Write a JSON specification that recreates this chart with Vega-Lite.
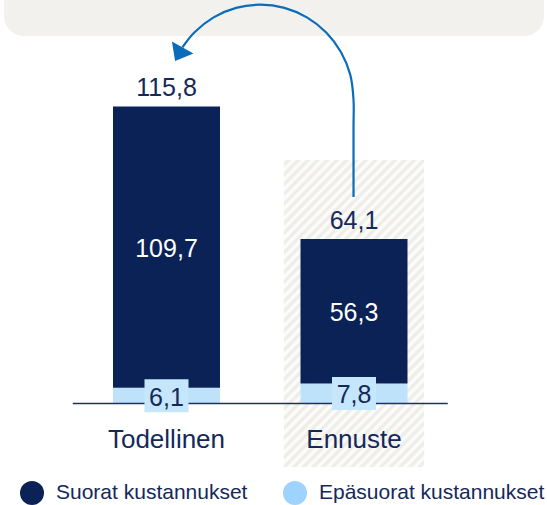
{
  "$schema": "https://vega.github.io/schema/vega-lite/v6.json",
  "width": 547,
  "height": 505,
  "autosize": {"type": "none"},
  "padding": 0,
  "background": "white",
  "config": {
    "view": {"stroke": null},
    "axis": {"disable": true},
    "text": {"font": "Liberation Sans"},
    "legend": {
      "orient": "none",
      "legendX": 20,
      "legendY": 481,
      "direction": "horizontal",
      "symbolType": "circle",
      "symbolSize": 576,
      "symbolStrokeWidth": 0,
      "symbolOpacity": 1,
      "labelFont": "Liberation Sans",
      "labelFontSize": 21,
      "labelColor": "#14295a",
      "labelLimit": 400,
      "labelOffset": 12,
      "columnPadding": 35,
      "padding": 0,
      "title": null
    }
  },
  "datasets": {
    "costs": [
      {"cat": "Todellinen", "pos": 1, "type": "Epäsuorat kustannukset", "ord": 1, "value": 6.1},
      {"cat": "Todellinen", "pos": 1, "type": "Suorat kustannukset", "ord": 2, "value": 109.7},
      {"cat": "Ennuste", "pos": 2, "type": "Epäsuorat kustannukset", "ord": 1, "value": 7.8},
      {"cat": "Ennuste", "pos": 2, "type": "Suorat kustannukset", "ord": 2, "value": 56.3}
    ],
    "arrow": [
      {"i": 0, "u": 1.9974, "v": 80.51},
      {"i": 1, "u": 1.9974, "v": 108.0},
      {"i": 2, "u": 1.9974, "v": 118.44},
      {"i": 3, "u": 1.9806, "v": 128.03},
      {"i": 4, "u": 1.9309, "v": 136.96},
      {"i": 5, "u": 1.8518, "v": 144.64},
      {"i": 6, "u": 1.7487, "v": 150.53},
      {"i": 7, "u": 1.6288, "v": 154.23},
      {"i": 8, "u": 1.5, "v": 155.48},
      {"i": 9, "u": 1.3712, "v": 154.23},
      {"i": 10, "u": 1.2513, "v": 150.53},
      {"i": 11, "u": 1.1482, "v": 144.64},
      {"i": 12, "u": 1.0848, "v": 138.83}
    ]
  },
  "data": {"name": "costs"},
  "transform": [
    {"stack": "value", "groupby": ["pos"], "sort": [{"field": "ord", "order": "ascending"}], "as": ["y0", "y1"]},
    {"calculate": "(datum.y0 + datum.y1) / 2", "as": "mid"},
    {"calculate": "replace(format(datum.value, '.1f'), '.', ',')", "as": "lbl"}
  ],
  "layer": [
    {
      "data": {"values": [{}]},
      "mark": {"type": "rect", "color": "#f2f1ee", "cornerRadius": 20},
      "encoding": {
        "x": {"datum": 0.1335, "type": "quantitative", "scale": {"domain": [0.1387, 3.0026], "nice": false, "zero": false}, "axis": null},
        "x2": {"datum": 3.013},
        "y": {"datum": 143.3, "type": "quantitative", "scale": {"domain": [-39.57, 157.31], "nice": false, "zero": false}, "axis": null},
        "y2": {"datum": 175}
      }
    },
    {
      "data": {"values": [{}]},
      "mark": {
        "type": "rect",
        "fill": {
          "gradient": "linear",
          "x1": 0, "y1": 0, "x2": 0.5558, "y2": 1.205,
          "stops": [
            {"offset": 0, "color": "#ffffff"}, {"offset": 0.0109, "color": "#ebeae4"},
            {"offset": 0.0217, "color": "#ffffff"}, {"offset": 0.0326, "color": "#ebeae4"},
            {"offset": 0.0435, "color": "#ffffff"}, {"offset": 0.0543, "color": "#ebeae4"},
            {"offset": 0.0652, "color": "#ffffff"}, {"offset": 0.0761, "color": "#ebeae4"},
            {"offset": 0.0870, "color": "#ffffff"}, {"offset": 0.0978, "color": "#ebeae4"},
            {"offset": 0.1087, "color": "#ffffff"}, {"offset": 0.1196, "color": "#ebeae4"},
            {"offset": 0.1304, "color": "#ffffff"}, {"offset": 0.1413, "color": "#ebeae4"},
            {"offset": 0.1522, "color": "#ffffff"}, {"offset": 0.1630, "color": "#ebeae4"},
            {"offset": 0.1739, "color": "#ffffff"}, {"offset": 0.1848, "color": "#ebeae4"},
            {"offset": 0.1957, "color": "#ffffff"}, {"offset": 0.2065, "color": "#ebeae4"},
            {"offset": 0.2174, "color": "#ffffff"}, {"offset": 0.2283, "color": "#ebeae4"},
            {"offset": 0.2391, "color": "#ffffff"}, {"offset": 0.2500, "color": "#ebeae4"},
            {"offset": 0.2609, "color": "#ffffff"}, {"offset": 0.2717, "color": "#ebeae4"},
            {"offset": 0.2826, "color": "#ffffff"}, {"offset": 0.2935, "color": "#ebeae4"},
            {"offset": 0.3043, "color": "#ffffff"}, {"offset": 0.3152, "color": "#ebeae4"},
            {"offset": 0.3261, "color": "#ffffff"}, {"offset": 0.3370, "color": "#ebeae4"},
            {"offset": 0.3478, "color": "#ffffff"}, {"offset": 0.3587, "color": "#ebeae4"},
            {"offset": 0.3696, "color": "#ffffff"}, {"offset": 0.3804, "color": "#ebeae4"},
            {"offset": 0.3913, "color": "#ffffff"}, {"offset": 0.4022, "color": "#ebeae4"},
            {"offset": 0.4130, "color": "#ffffff"}, {"offset": 0.4239, "color": "#ebeae4"},
            {"offset": 0.4348, "color": "#ffffff"}, {"offset": 0.4457, "color": "#ebeae4"},
            {"offset": 0.4565, "color": "#ffffff"}, {"offset": 0.4674, "color": "#ebeae4"},
            {"offset": 0.4783, "color": "#ffffff"}, {"offset": 0.4891, "color": "#ebeae4"},
            {"offset": 0.5000, "color": "#ffffff"}, {"offset": 0.5109, "color": "#ebeae4"},
            {"offset": 0.5217, "color": "#ffffff"}, {"offset": 0.5326, "color": "#ebeae4"},
            {"offset": 0.5435, "color": "#ffffff"}, {"offset": 0.5543, "color": "#ebeae4"},
            {"offset": 0.5652, "color": "#ffffff"}, {"offset": 0.5761, "color": "#ebeae4"},
            {"offset": 0.5870, "color": "#ffffff"}, {"offset": 0.5978, "color": "#ebeae4"},
            {"offset": 0.6087, "color": "#ffffff"}, {"offset": 0.6196, "color": "#ebeae4"},
            {"offset": 0.6304, "color": "#ffffff"}, {"offset": 0.6413, "color": "#ebeae4"},
            {"offset": 0.6522, "color": "#ffffff"}, {"offset": 0.6630, "color": "#ebeae4"},
            {"offset": 0.6739, "color": "#ffffff"}, {"offset": 0.6848, "color": "#ebeae4"},
            {"offset": 0.6957, "color": "#ffffff"}, {"offset": 0.7065, "color": "#ebeae4"},
            {"offset": 0.7174, "color": "#ffffff"}, {"offset": 0.7283, "color": "#ebeae4"},
            {"offset": 0.7391, "color": "#ffffff"}, {"offset": 0.7500, "color": "#ebeae4"},
            {"offset": 0.7609, "color": "#ffffff"}, {"offset": 0.7717, "color": "#ebeae4"},
            {"offset": 0.7826, "color": "#ffffff"}, {"offset": 0.7935, "color": "#ebeae4"},
            {"offset": 0.8043, "color": "#ffffff"}, {"offset": 0.8152, "color": "#ebeae4"},
            {"offset": 0.8261, "color": "#ffffff"}, {"offset": 0.8370, "color": "#ebeae4"},
            {"offset": 0.8478, "color": "#ffffff"}, {"offset": 0.8587, "color": "#ebeae4"},
            {"offset": 0.8696, "color": "#ffffff"}, {"offset": 0.8804, "color": "#ebeae4"},
            {"offset": 0.8913, "color": "#ffffff"}, {"offset": 0.9022, "color": "#ebeae4"},
            {"offset": 0.9130, "color": "#ffffff"}, {"offset": 0.9239, "color": "#ebeae4"},
            {"offset": 0.9348, "color": "#ffffff"}, {"offset": 0.9457, "color": "#ebeae4"},
            {"offset": 0.9565, "color": "#ffffff"}, {"offset": 0.9674, "color": "#ebeae4"},
            {"offset": 0.9783, "color": "#ffffff"}, {"offset": 0.9891, "color": "#ebeae4"},
            {"offset": 1, "color": "#ffffff"}
          ]
        }
      },
      "encoding": {
        "x": {"datum": 1.626, "type": "quantitative", "scale": {"domain": [0.1387, 3.0026], "nice": false, "zero": false}, "axis": null},
        "x2": {"datum": 2.374},
        "y": {"datum": -24.8, "type": "quantitative", "scale": {"domain": [-39.57, 157.31], "nice": false, "zero": false}, "axis": null},
        "y2": {"datum": 94.9}
      }
    },
    {
      "mark": {"type": "point", "filled": true, "shape": "circle", "opacity": 1},
      "encoding": {
        "x": {"field": "pos", "type": "quantitative", "scale": {"domain": [0.1387, 3.0026], "nice": false, "zero": false}, "axis": null},
        "y": {"field": "mid", "type": "quantitative", "scale": {"domain": [-39.57, 157.31], "nice": false, "zero": false}, "axis": null},
        "color": {
          "field": "type",
          "type": "nominal",
          "scale": {"domain": ["Suorat kustannukset", "Epäsuorat kustannukset"], "range": ["#0a2255", "#9ed3fd"]}
        }
      }
    },
    {
      "mark": {"type": "bar", "width": 107},
      "encoding": {
        "x": {"field": "pos", "type": "quantitative", "scale": {"domain": [0.1387, 3.0026], "nice": false, "zero": false}, "axis": null},
        "y": {"field": "y0", "type": "quantitative", "scale": {"domain": [-39.57, 157.31], "nice": false, "zero": false}, "axis": null},
        "y2": {"field": "y1"},
        "fill": {
          "field": "type",
          "type": "nominal",
          "scale": {"domain": ["Epäsuorat kustannukset", "Suorat kustannukset"], "range": ["#bde2fa", "#0a2255"]},
          "legend": null
        }
      }
    },
    {
      "data": {"values": [{}]},
      "mark": {"type": "rule", "color": "#1c3262", "strokeWidth": 1.5},
      "encoding": {
        "x": {"datum": 0.5, "type": "quantitative", "scale": {"domain": [0.1387, 3.0026], "nice": false, "zero": false}, "axis": null},
        "x2": {"datum": 2.5},
        "y": {"datum": 0, "type": "quantitative", "scale": {"domain": [-39.57, 157.31], "nice": false, "zero": false}, "axis": null}
      }
    },
    {
      "transform": [{"filter": "datum.ord === 1"}],
      "mark": {"type": "point", "shape": "M-1,-0.75L1,-0.75L1,0.75L-1,0.75Z", "size": 1936, "filled": true, "color": "#c5e6fb", "opacity": 1},
      "encoding": {
        "x": {"field": "pos", "type": "quantitative", "scale": {"domain": [0.1387, 3.0026], "nice": false, "zero": false}, "axis": null},
        "y": {"field": "mid", "type": "quantitative", "scale": {"domain": [-39.57, 157.31], "nice": false, "zero": false}, "axis": null}
      }
    },
    {
      "mark": {"type": "text", "fontSize": 25, "baseline": "alphabetic", "dy": 10},
      "encoding": {
        "x": {"field": "pos", "type": "quantitative", "scale": {"domain": [0.1387, 3.0026], "nice": false, "zero": false}, "axis": null},
        "y": {"field": "mid", "type": "quantitative", "scale": {"domain": [-39.57, 157.31], "nice": false, "zero": false}, "axis": null},
        "text": {"field": "lbl"},
        "color": {"condition": {"test": "datum.ord === 2", "value": "#ffffff"}, "value": "#14295a"}
      }
    },
    {
      "transform": [
        {"aggregate": [{"op": "sum", "field": "value", "as": "total"}], "groupby": ["pos", "cat"]},
        {"calculate": "replace(format(datum.total, '.1f'), '.', ',')", "as": "tl"}
      ],
      "layer": [
        {
          "mark": {"type": "text", "fontSize": 25, "baseline": "alphabetic", "dy": -10, "color": "#14295a"},
          "encoding": {
            "x": {"field": "pos", "type": "quantitative", "scale": {"domain": [0.1387, 3.0026], "nice": false, "zero": false}, "axis": null},
            "y": {"field": "total", "type": "quantitative", "scale": {"domain": [-39.57, 157.31], "nice": false, "zero": false}, "axis": null},
            "text": {"field": "tl"}
          }
        },
        {
          "mark": {"type": "text", "fontSize": 26, "baseline": "alphabetic", "dy": 44.5, "color": "#14295a"},
          "encoding": {
            "x": {"field": "pos", "type": "quantitative", "scale": {"domain": [0.1387, 3.0026], "nice": false, "zero": false}, "axis": null},
            "y": {"datum": 0, "type": "quantitative", "scale": {"domain": [-39.57, 157.31], "nice": false, "zero": false}, "axis": null},
            "text": {"field": "cat"}
          }
        }
      ]
    },
    {
      "data": {"name": "arrow"},
      "mark": {"type": "line", "interpolate": "catmull-rom", "color": "#0b6cb9", "strokeWidth": 2.2},
      "encoding": {
        "x": {"field": "u", "type": "quantitative", "scale": {"domain": [0.1387, 3.0026], "nice": false, "zero": false}, "axis": null},
        "y": {"field": "v", "type": "quantitative", "scale": {"domain": [-39.57, 157.31], "nice": false, "zero": false}, "axis": null},
        "order": {"field": "i", "type": "quantitative"}
      }
    },
    {
      "data": {"values": [{}]},
      "mark": {"type": "point", "shape": "M-1,-0.63L1,-0.63L0,0.63Z", "size": 605, "angle": 29.2, "filled": true, "color": "#0b6cb9", "opacity": 1},
      "encoding": {
        "x": {"datum": 1.066, "type": "quantitative", "scale": {"domain": [0.1387, 3.0026], "nice": false, "zero": false}, "axis": null},
        "y": {"datum": 136.2, "type": "quantitative", "scale": {"domain": [-39.57, 157.31], "nice": false, "zero": false}, "axis": null}
      }
    }
  ]
}
